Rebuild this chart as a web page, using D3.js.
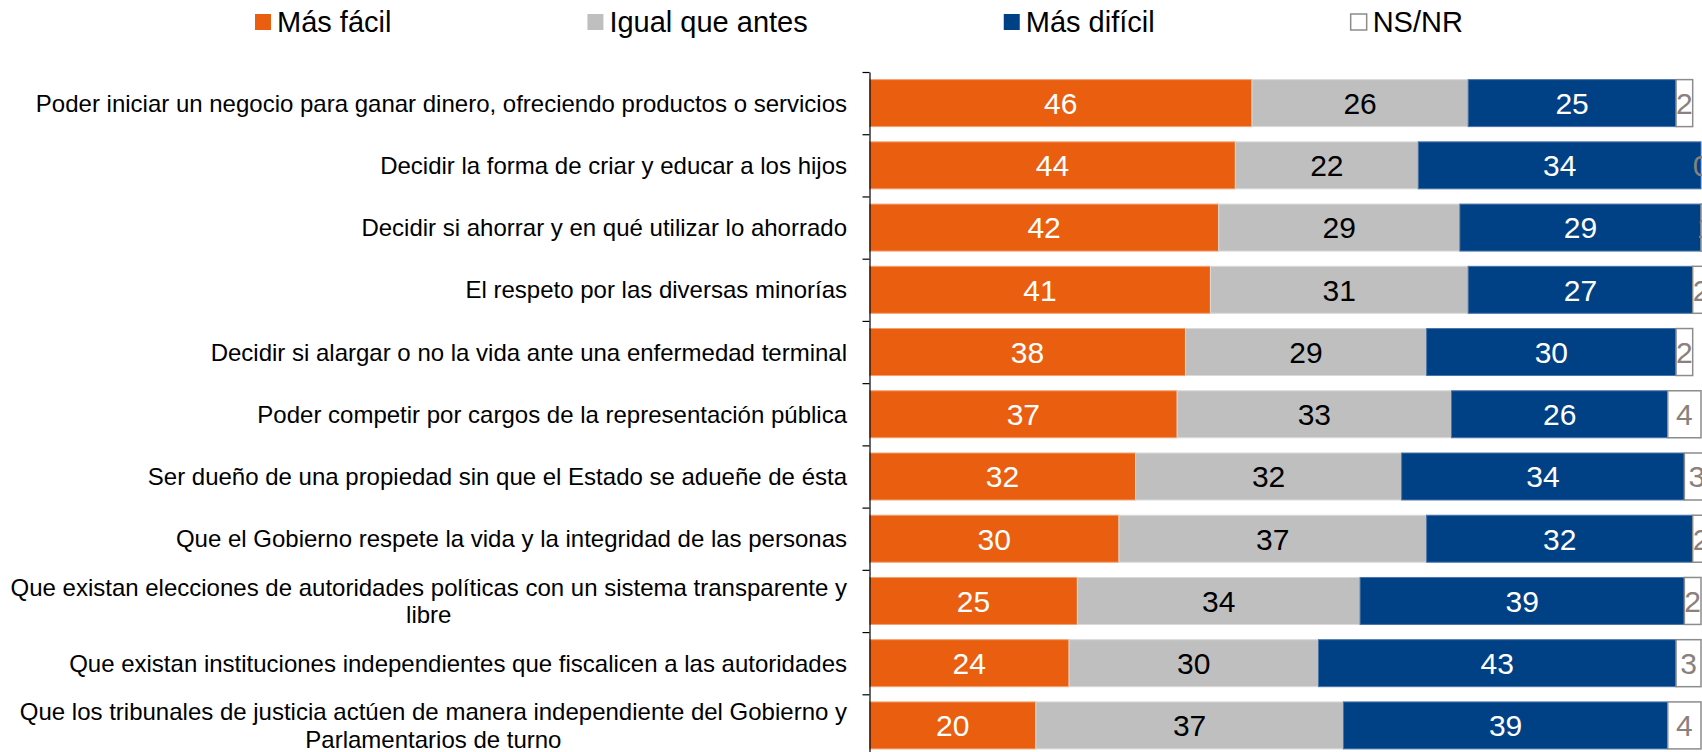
<!DOCTYPE html>
<html>
<head>
<meta charset="utf-8">
<script src="https://cdn.jsdelivr.net/npm/d3@7"></script>
<style>
  html, body { margin: 0; padding: 0; background: #fff; overflow: hidden; }
  svg { display: block; font-family: "Liberation Sans", Arial, sans-serif; }
</style>
</head>
<body>
<svg id="chart"></svg>
<script>
const categories = [
  "Poder iniciar un negocio para ganar dinero, ofreciendo productos o servicios",
  "Decidir la forma de criar y educar a los hijos",
  "Decidir si ahorrar y en qué utilizar lo ahorrado",
  "El respeto por las diversas minorías",
  "Decidir si alargar o no la vida ante una enfermedad terminal",
  "Poder competir por cargos de la representación pública",
  "Ser dueño de una propiedad sin que el Estado se adueñe de ésta",
  "Que el Gobierno respete la vida y la integridad de las personas",
  "Que existan elecciones de autoridades políticas con un sistema transparente y libre",
  "Que existan instituciones independientes que fiscalicen a las autoridades",
  "Que los tribunales de justicia actúen de manera independiente del Gobierno y Parlamentarios de turno"
];

const seriesNames = ["Más fácil", "Igual que antes", "Más difícil", "NS/NR"];

const masFacil   = [46, 44, 42, 41, 38, 37, 32, 30, 25, 24, 20];
const igual      = [26, 22, 29, 31, 29, 33, 32, 37, 34, 30, 37];
const masDificil = [25, 34, 29, 27, 30, 26, 34, 32, 39, 43, 39];
const nsnr       = [2, 0, 1, 2, 2, 4, 3, 2, 2, 3, 4];

const width = 1702;
const height = 752;
const margin = { top: 72, left: 869.5 };

const colors = ["#E95E0F", "#BFBFBF", "#004185", "#FFFFFF"];
const strokes = ["#F3A16F", "#DADADA", "#4A74A8", "#8C8C8C"];
const labelColors = ["#FFFFFF", "#000000", "#FFFFFF", "#8A807C"];

const svg = d3.select("#chart").attr("width", width).attr("height", height);

const rows = categories.map((c, i) => ({
  cat: c,
  values: [masFacil[i], igual[i], masDificil[i], nsnr[i]]
}));

const step = 62.23;
const yIdx = d3.scaleLinear().domain([0, categories.length]).range([margin.top, margin.top + step * categories.length]);

const y = d3
  .scaleBand()
  .domain(categories)
  .range([margin.top, margin.top + step * categories.length])
  .paddingInner(0.245)
  .paddingOuter(0.1225);

const x = d3.scaleLinear().domain([0, 100]).range([margin.left, 1701]);

// Bars
const rowG = svg
  .selectAll(".row")
  .data(rows)
  .enter()
  .append("g")
  .attr("class", "row")
  .attr("transform", (d) => `translate(0,${y(d.cat)})`);

rowG.each(function (d) {
  const g = d3.select(this);
  let acc = 0;
  d.values.forEach((v, k) => {
    const x0 = x(acc);
    const x1 = x(acc + v);
    acc += v;
    g.append("rect")
      .attr("x", x0)
      .attr("y", 0)
      .attr("width", Math.max(0, x1 - x0))
      .attr("height", y.bandwidth())
      .attr("fill", colors[k])
      .attr("stroke", strokes[k])
      .attr("stroke-width", k === 3 ? 1.5 : 1);
    g.append("text")
      .attr("x", (x0 + x1) / 2)
      .attr("y", y.bandwidth() / 2)
      .attr("dy", "0.36em")
      .attr("text-anchor", "middle")
      .style("font-size", "30px")
      .style("fill", labelColors[k])
      .text(v);
  });
});

// Axis
svg
  .append("g")
  .attr("transform", `translate(${margin.left},0)`)
  .call(d3.axisLeft(yIdx).tickValues(d3.range(categories.length + 1)).tickFormat("").tickSize(7).tickSizeOuter(0))
  .call((g) => g.selectAll("path, line").attr("stroke", "#000").attr("stroke-width", 1.2));

// Category labels (wrapped)
const labelX = 847;
const maxW = 845;
const labels = svg
  .selectAll(".cat")
  .data(categories)
  .enter()
  .append("text")
  .attr("class", "cat")
  .attr("text-anchor", "middle")
  .style("font-size", "24px")
  .style("fill", "#000");

labels.each(function (d) {
  const t = d3.select(this);
  const words = d.split(" ");
  const lines = [];
  let line = [];
  const probe = t.append("tspan");
  words.forEach((w) => {
    line.push(w);
    probe.text(line.join(" "));
    if (probe.node().getComputedTextLength() > maxW && line.length > 1) {
      line.pop();
      lines.push(line.join(" "));
      line = [w];
    }
  });
  lines.push(line.join(" "));
  probe.remove();
  const lh = 27.5;
  const cy = y(d) + y.bandwidth() / 2;
  const widths = [];
  lines.forEach((l) => {
    const ts = t.append("tspan").text(l);
    widths.push(ts.node().getComputedTextLength());
  });
  const blockW = d3.max(widths);
  const centerX = labelX - blockW / 2;
  t.selectAll("tspan")
    .attr("x", centerX)
    .attr("y", (_, i) => cy + (i - (lines.length - 1) / 2) * lh)
    .attr("dy", "0.36em");
});

// Legend
const legend = svg.append("g").attr("class", "legend");
let lx = 255;
seriesNames.forEach((name, k) => {
  legend
    .append("rect")
    .attr("x", lx)
    .attr("y", 14)
    .attr("width", 16)
    .attr("height", 16)
    .attr("fill", colors[k])
    .attr("stroke", k === 3 ? "#8C8C8C" : "none")
    .attr("stroke-width", 1.5);
  const txt = legend
    .append("text")
    .attr("x", lx + 22)
    .attr("y", 22)
    .attr("dy", "0.36em")
    .style("font-size", "29px")
    .style("fill", "#000")
    .text(name);
  lx = lx + 22 + txt.node().getComputedTextLength() + 196;
});
</script>
</body>
</html>
